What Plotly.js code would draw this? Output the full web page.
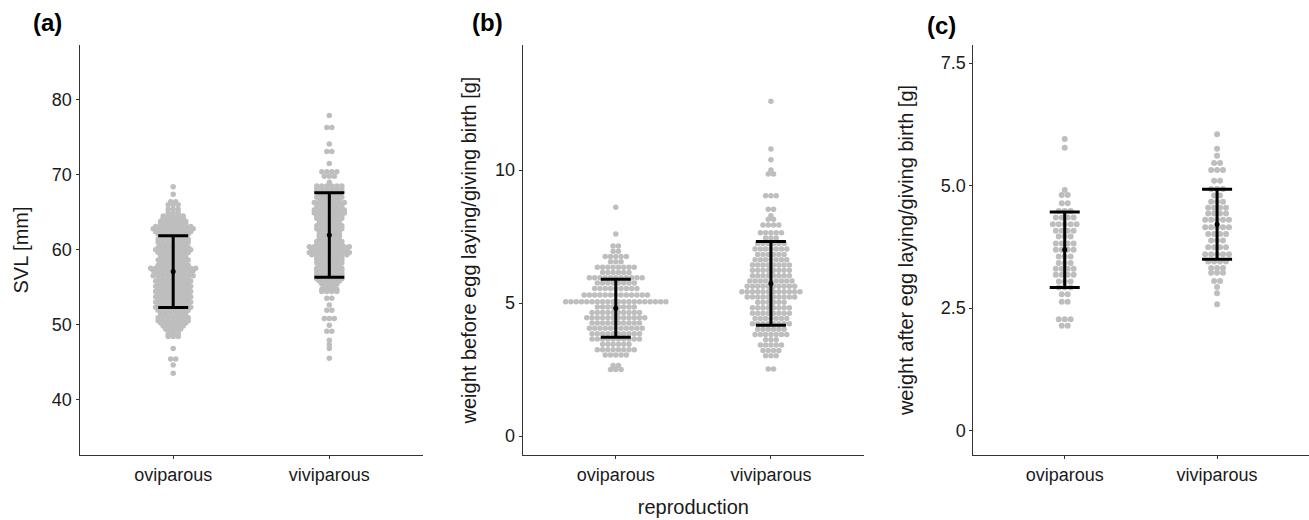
<!DOCTYPE html>
<html><head><meta charset="utf-8">
<script src="https://cdn.plot.ly/plotly-3.0.1.min.js"></script>
<style>body{margin:0;background:#fff}#chart{width:1309px;height:520px}</style>
</head><body><div id="chart"></div>
<script>
// ---- data ----
const categories = ['oviparous', 'viviparous'];

// (a) SVL [mm]
const svlOviValues = [68.4,67.4,66.4,66.0,65.4,64.9,64.5,64.2,63.8,63.5,63.1,62.8,62.4,62.1,61.7,61.4,61.0,60.7,60.3,60.0,59.6,59.3,58.9,58.6,58.2,57.9,57.5,57.2,56.8,56.5,56.1,55.8,55.4,55.1,54.7,54.4,54.0,53.7,53.3,53.0,52.6,52.3,51.9,51.6,51.2,50.9,50.5,50.2,49.8,49.4,49.1,48.7,48.4,46.8,45.4,44.6,43.5];
const svlOviCounts = [1,1,2,3,3,3,5,5,6,6,8,9,8,7,6,7,7,6,7,8,7,6,6,7,6,7,10,9,8,9,7,8,7,8,7,8,7,8,7,8,7,8,7,6,6,7,7,6,5,4,3,3,3,1,2,1,1];
const svlViviValues = [77.9,76.3,74.1,73.1,71.5,70.4,69.8,69.0,68.5,68.1,67.7,67.4,67.0,66.7,66.3,66.0,65.6,65.3,64.9,64.6,64.2,63.9,63.5,63.2,62.8,62.5,62.1,61.8,61.4,61.1,60.7,60.4,60.0,59.6,59.3,58.9,58.6,58.2,57.9,57.5,57.2,56.8,56.5,56.1,55.8,55.4,55.1,54.7,54.4,53.5,52.6,51.9,50.8,49.9,49.1,47.9,47.3,46.8,45.5];
const svlViviCounts = [1,2,1,2,1,4,3,1,6,6,6,5,6,5,7,6,6,7,7,6,6,5,5,6,6,5,5,5,5,6,6,9,8,9,8,6,6,6,5,6,6,6,6,6,5,4,3,4,4,2,1,2,3,1,2,1,1,1,1];
const svlMean = [57.07, 61.96];
const svlSd = [4.79, 5.64];

// (b) weight before egg laying / giving birth [g]
const wbOviValues = [8.6,7.6,7.15,6.95,6.75,6.55,6.35,6.15,5.95,5.75,5.55,5.3,5.05,4.85,4.65,4.45,4.25,4.05,3.85,3.65,3.45,3.25,3.05,2.65,2.5];
const wbOviCounts = [1,1,2,2,5,3,8,6,11,8,9,13,20,8,10,12,10,11,10,10,6,8,5,2,3];
const wbViviValues = [12.59,10.79,10.39,10.0,9.85,9.03,8.53,8.28,8.15,7.93,7.64,7.45,7.24,7.03,6.83,6.63,6.43,6.23,6.03,5.83,5.63,5.43,5.23,5.03,4.82,4.62,4.42,4.22,4.02,3.82,3.62,3.42,3.22,3.02,2.52];
const wbViviCounts = [1,1,1,1,2,3,2,1,2,4,5,3,6,7,6,7,8,8,8,9,10,12,10,6,8,8,7,8,6,7,3,5,4,3,2];
const wbMean = [4.81, 5.74];
const wbSd = [1.09, 1.575];

// (c) weight after egg laying / giving birth [g]
const waOviValues = [5.95,5.77,4.91,4.81,4.64,4.48,4.35,4.21,4.08,3.96,3.82,3.69,3.55,3.42,3.30,3.18,3.04,2.92,2.78,2.63,2.27,2.14];
const waOviCounts = [1,1,1,2,2,3,4,5,4,3,4,4,3,3,4,4,3,3,2,2,3,2];
const waViviValues = [6.05,5.75,5.61,5.46,5.32,5.10,4.93,4.80,4.67,4.55,4.43,4.30,4.15,4.01,3.88,3.74,3.60,3.45,3.32,3.22,3.05,2.93,2.80,2.58];
const waViviCounts = [1,1,1,2,3,2,3,2,3,4,4,5,5,4,3,4,5,4,3,3,2,1,1,1];
const waMean = [3.69, 4.21];
const waSd = [0.77, 0.715];

const panelLetters = ['(a)', '(b)', '(c)'];
const yTitles = ['SVL [mm]', 'weight before egg laying/giving birth [g]', 'weight after egg laying/giving birth [g]'];
const xTitle = 'reproduction';

// ---- helpers ----
function swarm(values, counts, cat, d) {
  const x = [], y = [];
  values.forEach((v, k) => {
    const n = counts[k];
    for (let i = 0; i < n; i++) { x.push(cat + (i - (n - 1) / 2) * d); y.push(v); }
  });
  return {x, y};
}
const dotColor = 'rgb(190,190,190)';
function dots(values, counts, cat, d, xa, ya, size) {
  const s = swarm(values, counts, cat, d);
  return {type:'scatter', mode:'markers', x:s.x, y:s.y, xaxis:xa, yaxis:ya,
    marker:{color:dotColor, size:size}, hoverinfo:'y', showlegend:false};
}
function bars(mean, sd, xa, ya) {
  return {type:'scatter', mode:'markers', x:[1,2], y:mean, xaxis:xa, yaxis:ya,
    marker:{color:'black', size:5},
    error_y:{type:'data', array:sd, visible:true, color:'black', thickness:3, width:15},
    showlegend:false, hoverinfo:'y'};
}

const traces = [
  dots(svlOviValues, svlOviCounts, 1, 0.032, 'x', 'y', 5.5),
  dots(svlViviValues, svlViviCounts, 2, 0.032, 'x', 'y', 5.5),
  bars(svlMean, svlSd, 'x', 'y'),
  dots(wbOviValues, wbOviCounts, 1, 0.034, 'x2', 'y2', 5.5),
  dots(wbViviValues, wbViviCounts, 2, 0.034, 'x2', 'y2', 5.5),
  bars(wbMean, wbSd, 'x2', 'y2'),
  dots(waOviValues, waOviCounts, 1, 0.039, 'x3', 'y3', 6),
  dots(waViviValues, waViviCounts, 2, 0.039, 'x3', 'y3', 6),
  bars(waMean, waSd, 'x3', 'y3'),
];

const W = 1309, H = 520;
const font = {family:'Liberation Sans, Arial, sans-serif', size:18, color:'#1a1a1a'};
function xax(l, r, anchor, title) {
  const ax = {domain:[l/W, r/W], anchor:anchor, range:[0.4, 2.6], tickvals:[1,2], ticktext:categories,
    showline:true, linecolor:'#333', linewidth:1, ticks:'outside', ticklen:3, tickcolor:'#333',
    showgrid:false, zeroline:false, tickfont:{size:18, color:'#1a1a1a'}, fixedrange:true};
  if (title) ax.title = {text:title, font:{size:20, color:'#1a1a1a'}, standoff:16};
  return ax;
}
function yax(anchor, range, tickvals, ticktext, title, standoff) {
  return {domain:[(H-455)/H, (H-45)/H], anchor:anchor, range:range, tickvals:tickvals, ticktext:ticktext,
    showline:true, linecolor:'#333', linewidth:1, ticks:'outside', ticklen:3, tickcolor:'#333',
    showgrid:false, zeroline:false, tickfont:{size:18, color:'#1a1a1a'},
    title:{text:title, font:{size:20, color:'#1a1a1a'}, standoff:standoff}, fixedrange:true};
}

const layout = {
  width:W, height:H, margin:{l:0, r:0, t:0, b:0}, paper_bgcolor:'white', plot_bgcolor:'white',
  font:font, showlegend:false,
  xaxis: xax(79.5, 423, 'y'),
  xaxis2: xax(522.7, 864, 'y2', xTitle),
  xaxis3: xax(973.3, 1308.5, 'y3'),
  yaxis: yax('x', [32.6, 87.3], [40,50,60,70,80], ['40','50','60','70','80'], yTitles[0], 17),
  yaxis2: yax('x2', [-0.71, 14.7], [0,5,10], ['0','5','10'], yTitles[1], 13),
  yaxis3: yax('x3', [-0.5, 7.87], [0,2.5,5,7.5], ['0','2.5','5.0','7.5'], yTitles[2], 21),
  annotations: [
    {text:'<b>'+panelLetters[0]+'</b>', x:47/W, y:(H-23)/H, xref:'paper', yref:'paper', xanchor:'center', yanchor:'middle', showarrow:false, font:{size:24, color:'black'}},
    {text:'<b>'+panelLetters[1]+'</b>', x:487/W, y:(H-23)/H, xref:'paper', yref:'paper', xanchor:'center', yanchor:'middle', showarrow:false, font:{size:24, color:'black'}},
    {text:'<b>'+panelLetters[2]+'</b>', x:941/W, y:(H-25)/H, xref:'paper', yref:'paper', xanchor:'center', yanchor:'middle', showarrow:false, font:{size:24, color:'black'}},
  ]
};
Plotly.newPlot('chart', traces, layout, {displayModeBar:false, staticPlot:true});
</script></body></html>
